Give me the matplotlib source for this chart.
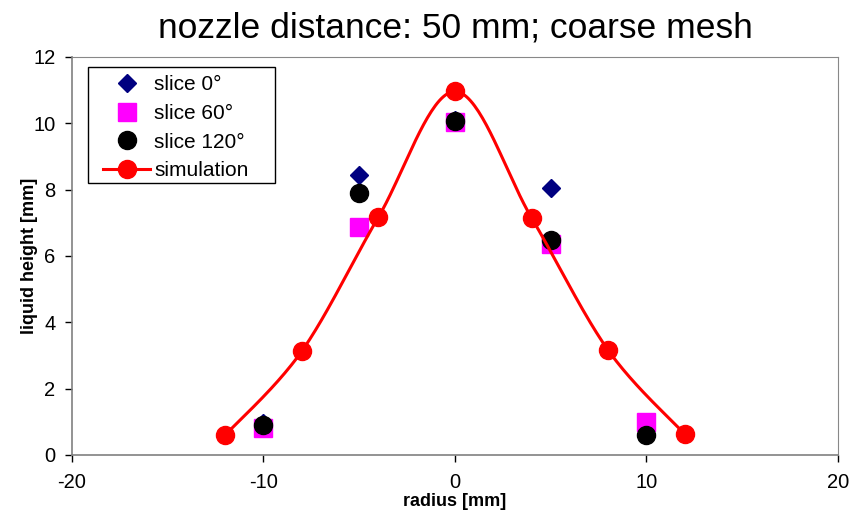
import numpy as np
import matplotlib
matplotlib.use("Agg")
import matplotlib.pyplot as plt
from matplotlib.patches import Rectangle

plt.rcParams['font.family'] = ['Liberation Sans', 'DejaVu Sans']
plt.rcParams['axes.unicode_minus'] = False

# data
radius_exp = [-10, -5, 0, 5, 10]
slice0 = [0.95, 8.43, 10.10, 8.04, 0.95]
slice60 = [0.81, 6.87, 10.03, 6.36, 0.99]
slice120 = [0.90, 7.89, 10.06, 6.48, 0.60]
radius_sim = [-12, -8, -4, 0, 4, 8, 12]
sim = [0.60, 3.13, 7.17, 10.96, 7.15, 3.16, 0.63]

x_ticks = [-20, -10, 0, 10, 20]
y_ticks = [0, 2, 4, 6, 8, 10, 12]


def catmull_rom(xs, ys, n=40):
    xs = np.asarray(xs, float)
    ys = np.asarray(ys, float)
    P = np.column_stack([xs, ys])
    out = []
    for i in range(len(P) - 1):
        p0 = P[i - 1] if i > 0 else P[i]
        p1 = P[i]
        p2 = P[i + 1]
        p3 = P[i + 2] if i + 2 < len(P) else P[i + 1]
        c1 = p1 + (p2 - p0) / 6.0
        c2 = p2 - (p3 - p1) / 6.0
        t = np.linspace(0, 1, n)[:, None]
        seg = ((1 - t) ** 3) * p1 + 3 * ((1 - t) ** 2) * t * c1 + 3 * (1 - t) * t ** 2 * c2 + t ** 3 * p2
        out.append(seg if i == 0 else seg[1:])
    s = np.vstack(out)
    return s[:, 0], s[:, 1]


fig = plt.figure(figsize=(8.52, 5.2), dpi=100)
ax = fig.add_axes([0.0845, 0.125, 0.899, 0.7654])

ax.plot(radius_exp, slice0, linestyle='none', marker='D', ms=9.5, color='#000080',
        label='slice 0°', zorder=3)
ax.plot(radius_exp, slice60, linestyle='none', marker='s', ms=12.5, color='#ff00ff',
        label='slice 60°', zorder=4)
ax.plot(radius_exp, slice120, linestyle='none', marker='o', ms=13, color='black',
        label='slice 120°', zorder=5)
sx, sy = catmull_rom(radius_sim, sim)
ax.plot(sx, sy, color='#ff0000', lw=2.2, zorder=6)
ax.plot(radius_sim, sim, linestyle='none', marker='o', ms=13, color='#ff0000', zorder=7)
ax.plot([], [], color='#ff0000', lw=2.2, marker='o', ms=13, label='simulation')

ax.set_xlim(-20, 20)
ax.set_ylim(0, 12)
ax.set_xticks(x_ticks)
ax.set_yticks(y_ticks)
ax.tick_params(direction='out', length=5, width=1, colors='#000000', labelsize=14.5)
ax.tick_params(axis='x', pad=8)
ax.tick_params(axis='y', pad=7)
for s in ['top', 'right']:
    ax.spines[s].set_color('#888888')
for s in ['left', 'bottom']:
    ax.spines[s].set_color('#808080')
ax.spines['left'].set_linewidth(1.2)
ax.spines['bottom'].set_linewidth(1.2)

ax.set_xlabel('radius [mm]', fontsize=13, fontweight='bold', labelpad=1)
ax.set_ylabel('liquid height [mm]', fontsize=13, fontweight='bold', labelpad=-3.5)
fig.text(0.535, 0.946, 'nozzle distance: 50 mm; coarse mesh', fontsize=25.5,
         ha='center', va='center')

# legend frame drawn separately for Excel-like padding
ax.add_patch(Rectangle((0.0209, 0.683), 0.2441, 0.292, transform=ax.transAxes,
                       facecolor='white', edgecolor='black', lw=1.0, zorder=9,
                       clip_on=False))
leg = ax.legend(loc='upper left', bbox_to_anchor=(0.0405, 0.9535), fontsize=15,
                frameon=False, handlelength=2.26, handletextpad=0.2, borderpad=0,
                labelspacing=0.46, borderaxespad=0, numpoints=1)
leg.set_zorder(10)

fig.savefig('out.png', dpi=100)
